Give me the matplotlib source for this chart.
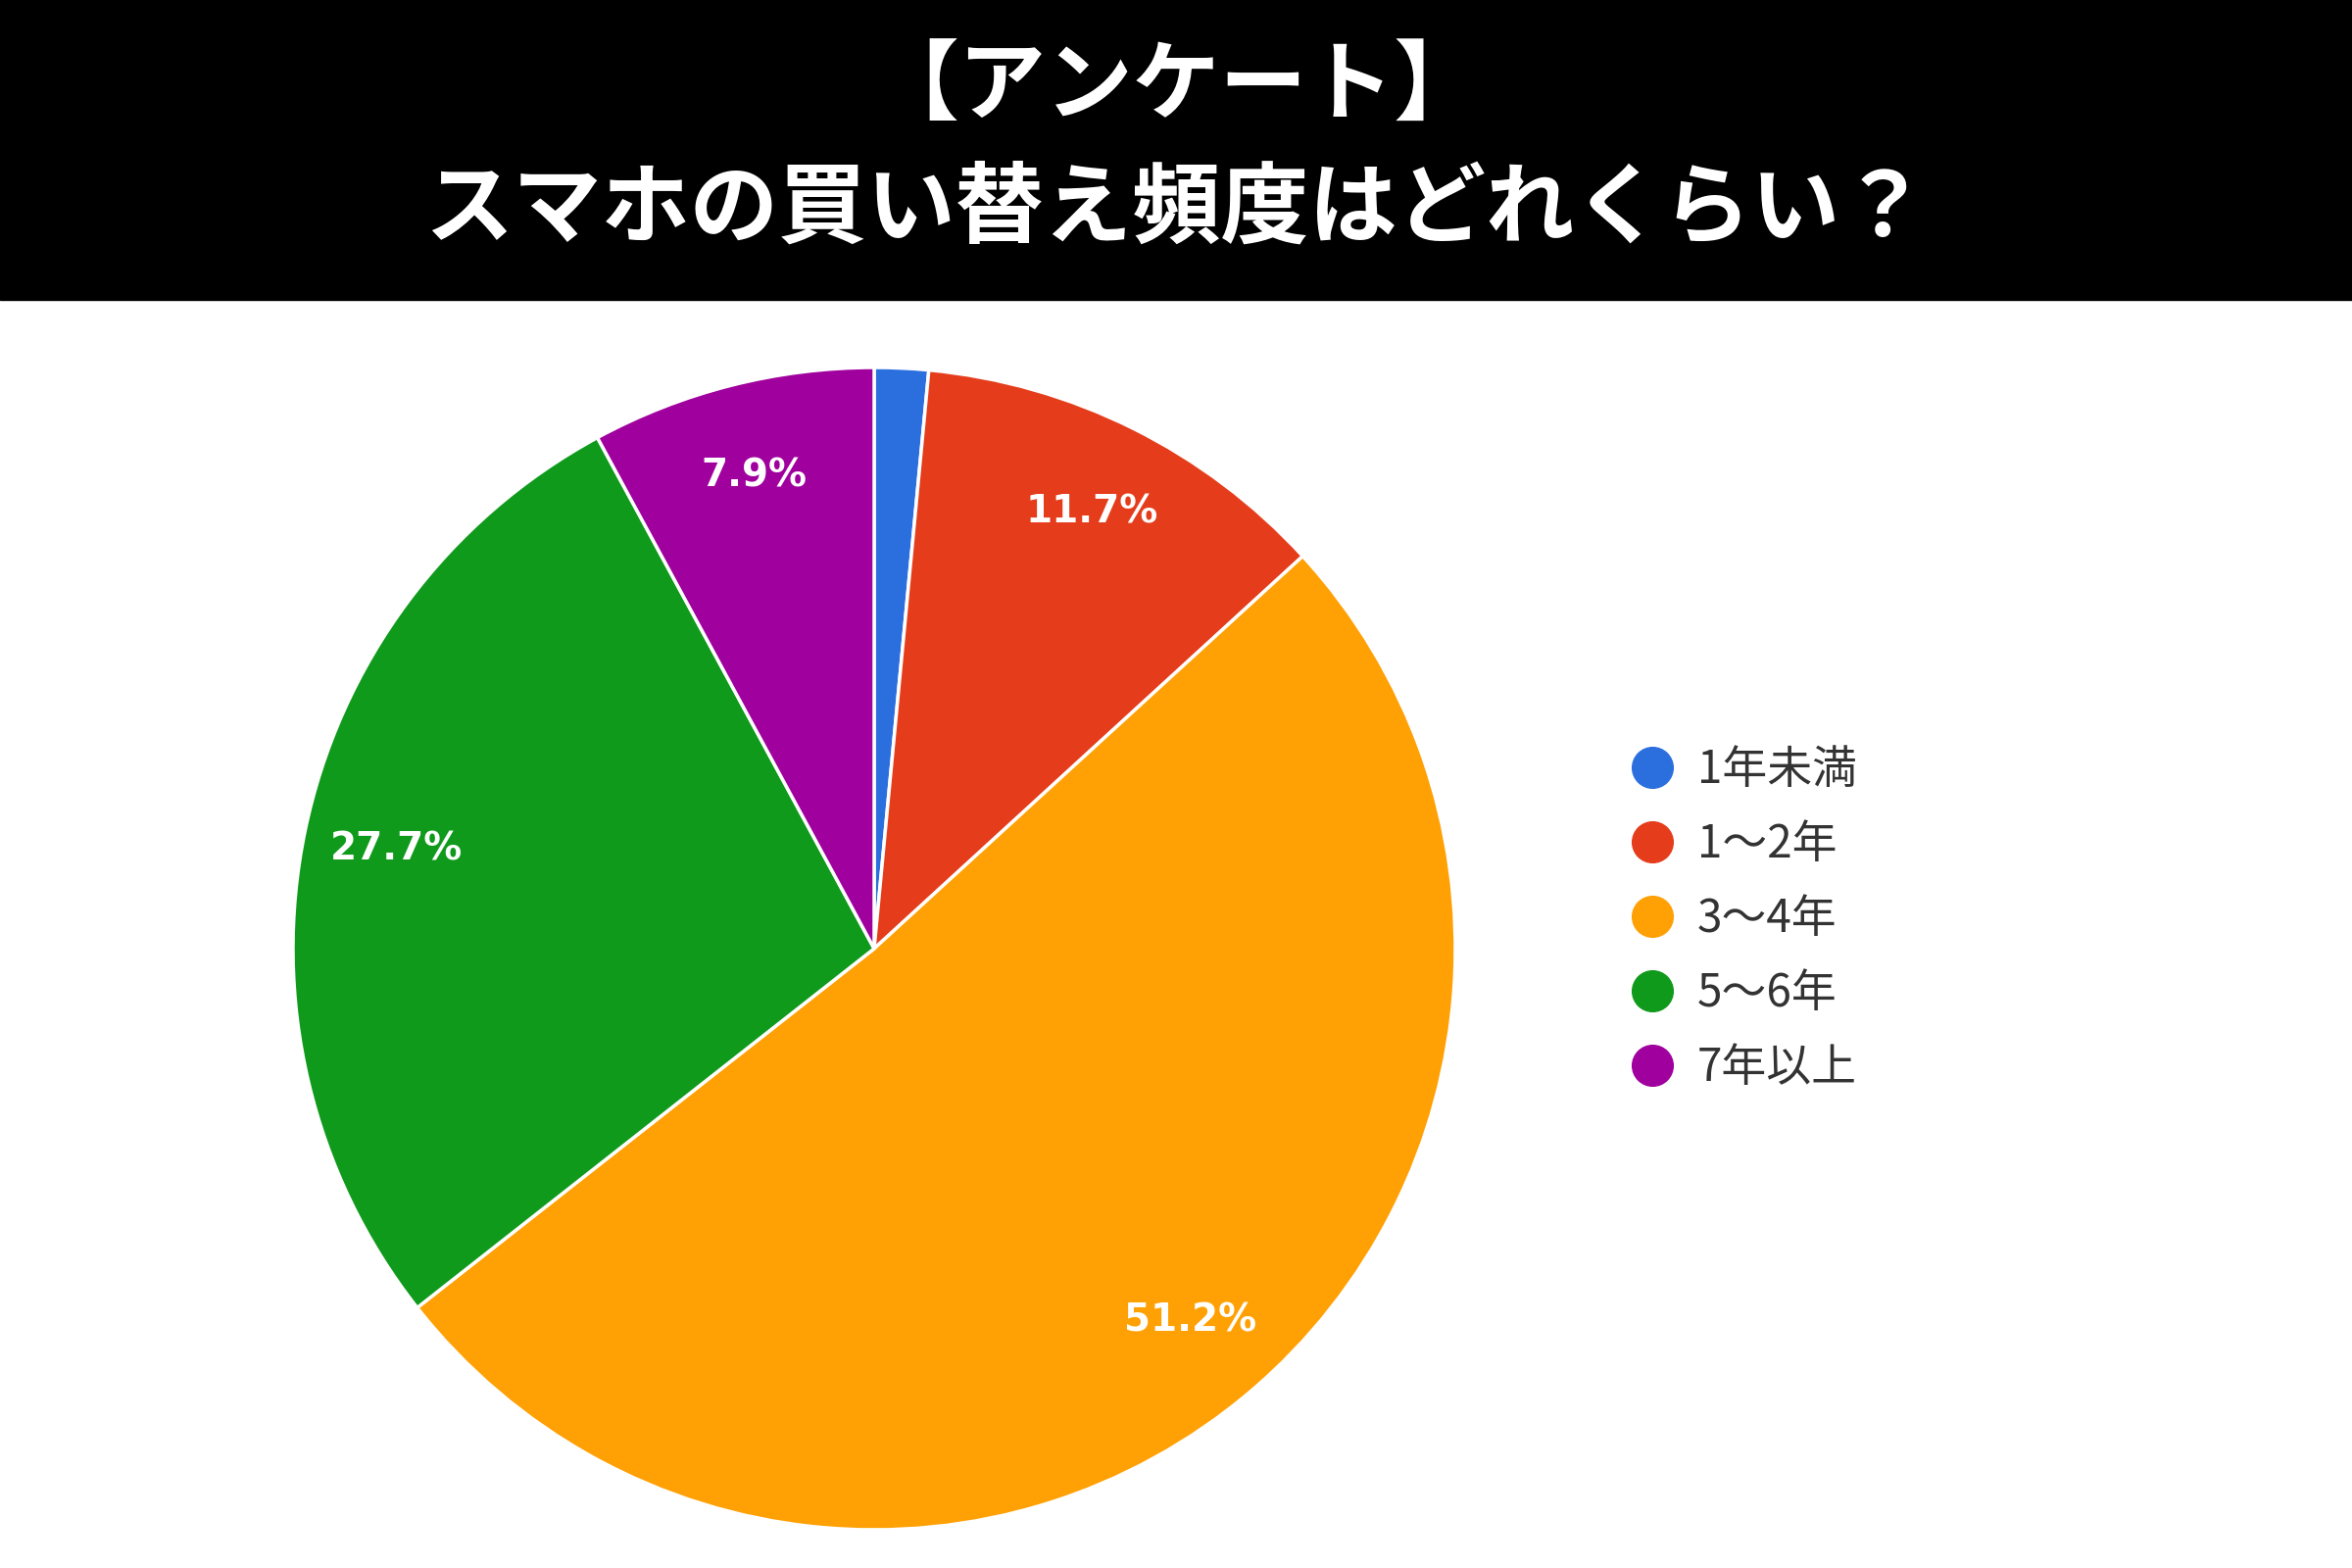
import matplotlib.pyplot as plt
import matplotlib.patches as mpatches
from matplotlib.lines import Line2D

plt.rcParams['font.family'] = ['Noto Sans CJK JP', 'DejaVu Sans']

# データ
labels = ["1年未満", "1〜2年", "3〜4年", "5〜6年", "7年以上"]
values = [1.5, 11.7, 51.2, 27.7, 7.9]
colors = ["#2b6fdf", "#e53d1b", "#ffa004", "#109a1c", "#a0009e"]
title_lines = ["【アンケート】", "スマホの買い替え頻度はどれくらい？"]

fig = plt.figure(figsize=(24, 16), dpi=100)

# 上の黒い帯
fig.patches.append(mpatches.Rectangle((0, 1 - 306 / 1600), 1, 306 / 1600,
                                      transform=fig.transFigure, color="black", zorder=0))
fig.text(0.5, 1 - 90 / 1600, title_lines[0], color="white", fontsize=64,
         fontweight="bold", ha="center", va="center")
fig.text(0.5, 1 - 214 / 1600, title_lines[1], color="white", fontsize=65,
         fontweight="bold", ha="center", va="center")

# 円グラフ
cx, cy, r = 892, 968, 593
ax = fig.add_axes([(cx - r) / 2400, (1600 - cy - r) / 1600, 2 * r / 2400, 2 * r / 1600])


def pct(p):
    return "" if p < 3 else f"{p:.1f}%"


wedges, texts, autotexts = ax.pie(values, colors=colors, startangle=90, counterclock=False,
                                  autopct=pct, pctdistance=0.84, radius=1,
                                  wedgeprops=dict(edgecolor="white", linewidth=2.5))
for t in autotexts:
    t.set_color("white")
    t.set_fontsize(28)
    t.set_fontweight("bold")
    t.set_fontfamily("DejaVu Sans")
ax.set_xlim(-1, 1)
ax.set_ylim(-1, 1)
ax.set_aspect("equal")
ax.axis("off")

# 凡例
handles = [Line2D([0], [0], marker="o", color="none", markerfacecolor=c, markeredgecolor=c,
                  markersize=30) for c in colors]
leg = fig.legend(handles, labels, loc="upper left", bbox_to_anchor=(1645 / 2400, 1 - 743 / 1600),
                 frameon=False, fontsize=33, labelspacing=0.6, handlelength=1.0,
                 handletextpad=0.5, borderaxespad=0)
for t in leg.get_texts():
    t.set_color("#333333")

fig.savefig("out.png", dpi=100)
